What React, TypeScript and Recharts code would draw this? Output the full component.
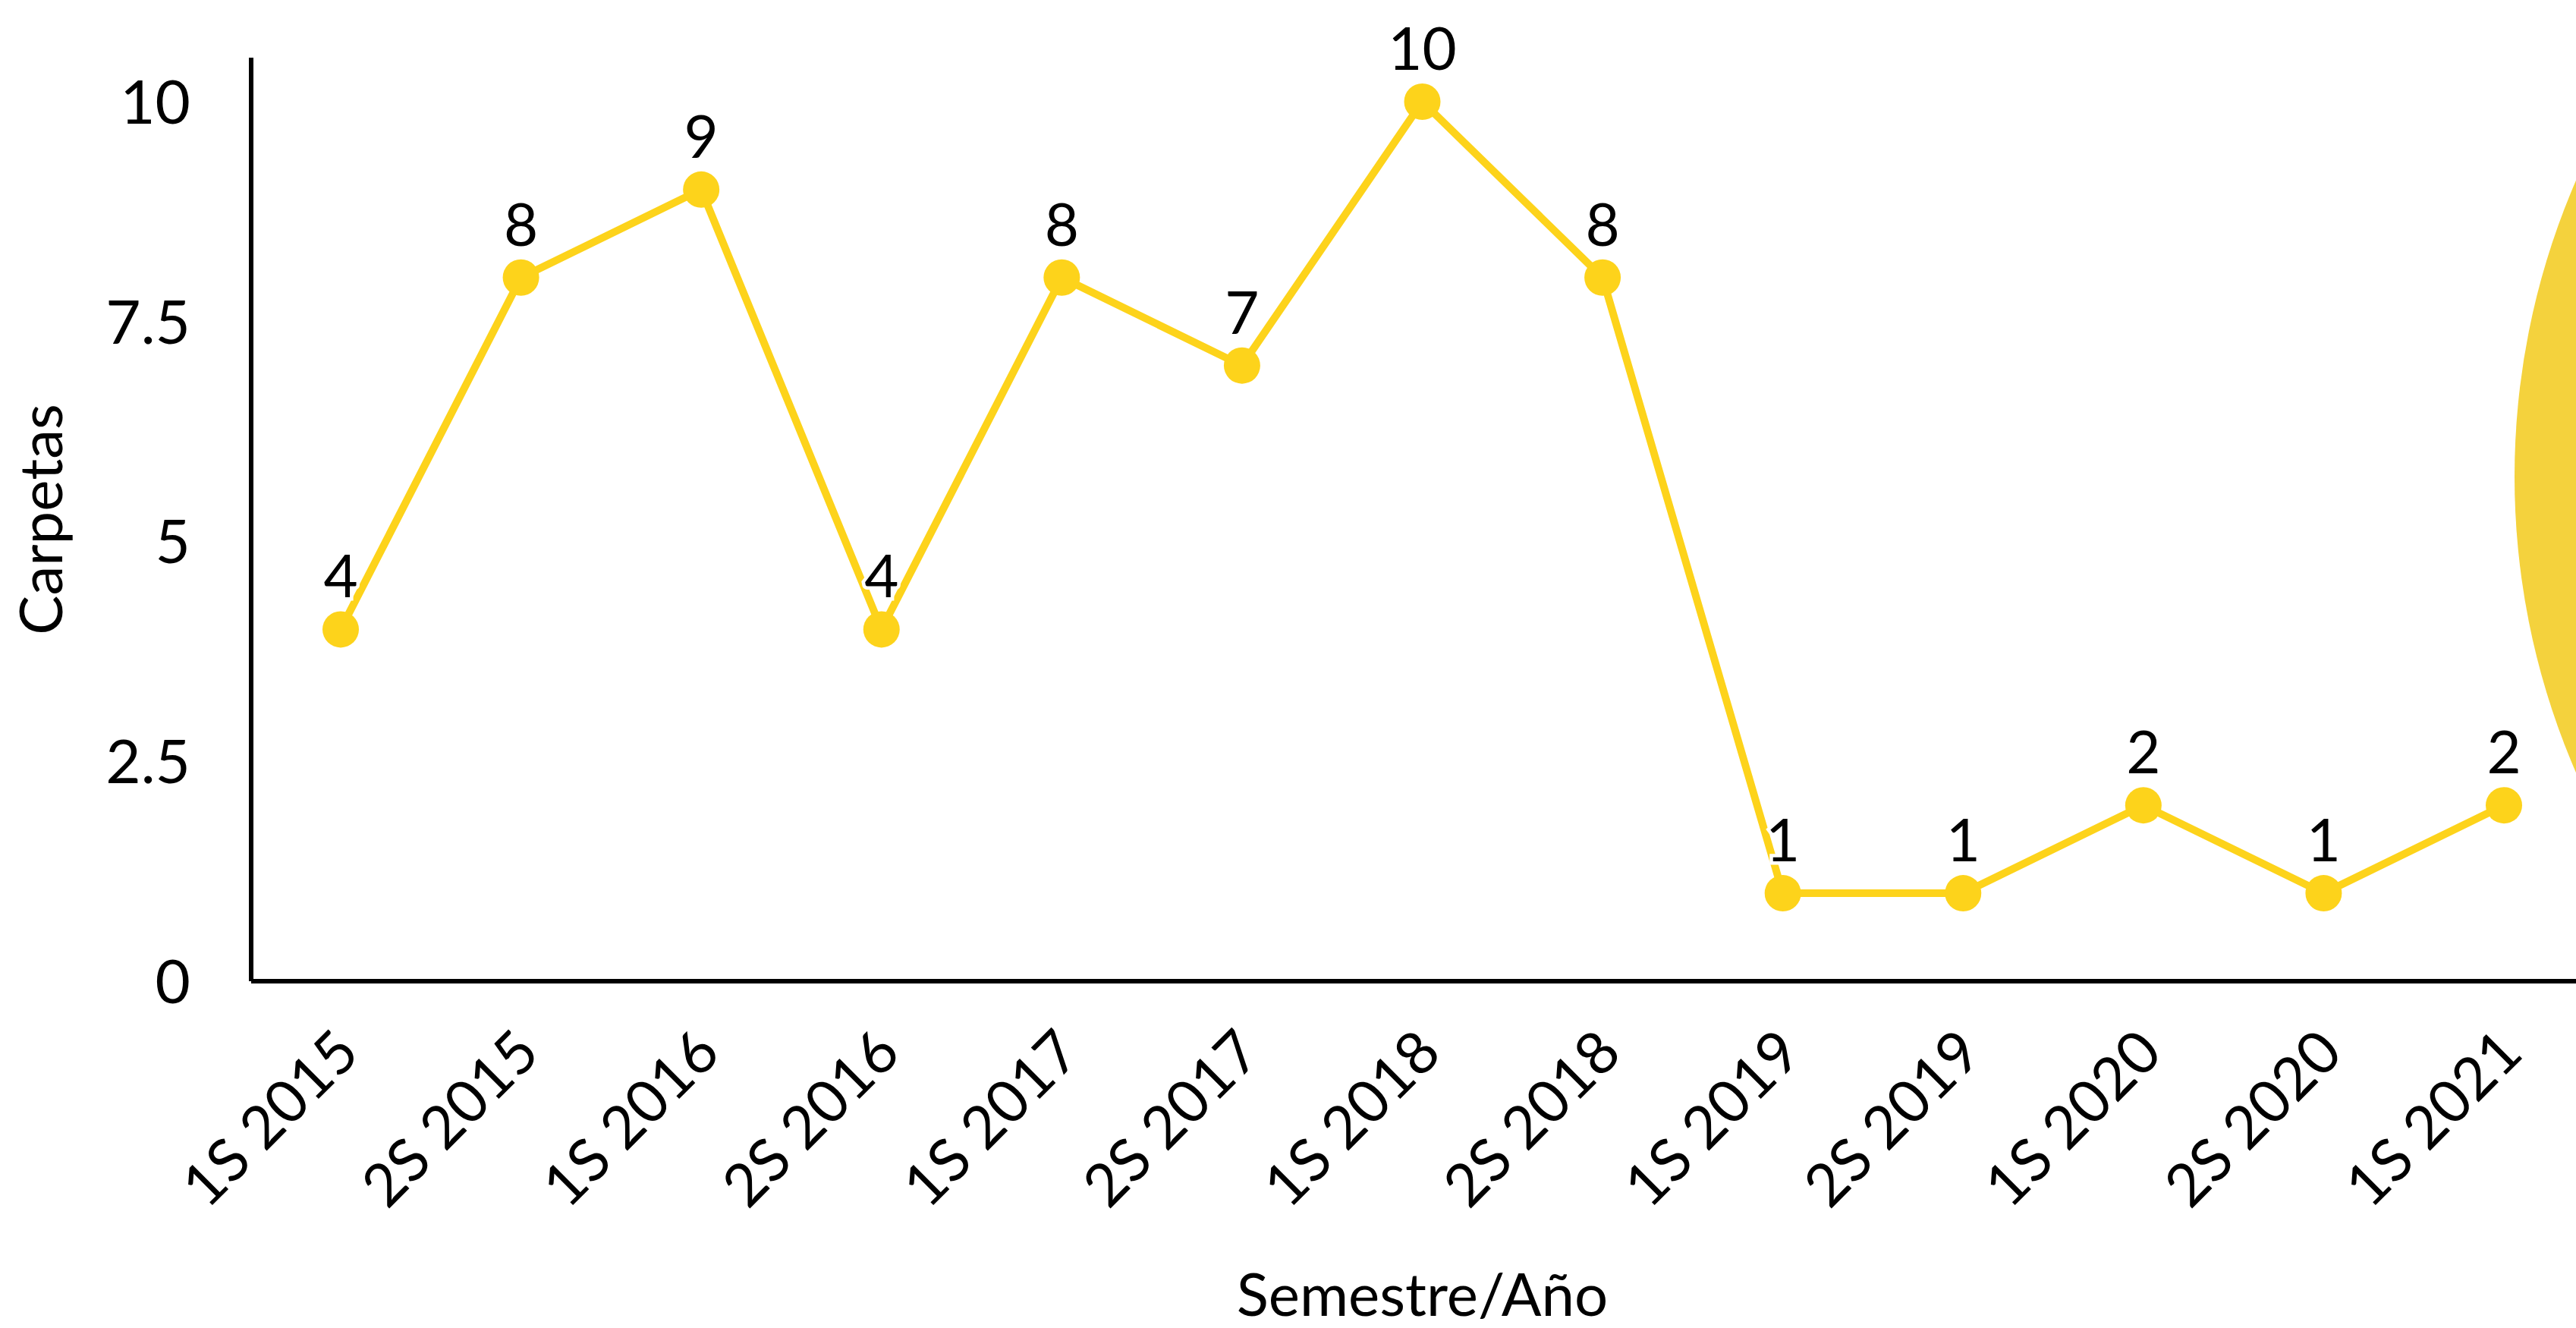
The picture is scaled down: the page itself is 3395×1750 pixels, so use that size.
import { CartesianGrid, Label, LabelList, Line, LineChart, XAxis, YAxis } from 'recharts'

const semesters = [
  '1S 2015', '2S 2015', '1S 2016', '2S 2016', '1S 2017', '2S 2017', '1S 2018',
  '2S 2018', '1S 2019', '2S 2019', '1S 2020', '2S 2020', '1S 2021',
]
const carpetas = [4, 8, 9, 4, 8, 7, 10, 8, 1, 1, 2, 1, 2]
const yTicks = [0, 2.5, 5, 7.5, 10]

const data = semesters.map((s, i) => ({ semestre: s, carpetas: carpetas[i] }))

const FONT = 'Lato, "Open Sans", sans-serif'
const YELLOW = '#FDD31B'

function XTick({ x, y, payload }: any) {
  const ax = x + 28
  const ay = y + 90
  return (
    <text
      x={ax}
      y={ay}
      transform={`rotate(-45, ${ax}, ${ay})`}
      textAnchor="end"
      fontSize={78}
      fontFamily={FONT}
      fill="#000"
    >
      {payload.value}
    </text>
  )
}

function YTick({ y, payload }: any) {
  return (
    <text x={251} y={y} dy="0.36em" textAnchor="end" fontSize={80} fontFamily={FONT} fill="#000">
      {payload.value}
    </text>
  )
}

function PointLabel({ x, y, value }: any) {
  return (
    <text
      x={x}
      y={y - 42}
      textAnchor="middle"
      fontSize={78}
      fontFamily={FONT}
      fill="#000"
      stroke="#fff"
      strokeWidth={9}
      paintOrder="stroke"
    >
      {value}
    </text>
  )
}

export default function App() {
  return (
    <div style={{ position: 'fixed', left: 0, top: 0, width: 3395, height: 1750, overflow: 'hidden', background: '#fff' }}>
      {/* decorative circle cut by the right edge */}
      <div
        style={{
          position: 'absolute',
          left: 3314,
          top: 628 - 980,
          width: 1960,
          height: 1960,
          borderRadius: '50%',
          background: '#F4D23D',
        }}
      />
      <div style={{ position: 'absolute', left: 0, top: 0 }}>
        <LineChart width={3440} height={1750} data={data} margin={{ top: 76, right: 22, bottom: 0, left: 0 }}>
          <CartesianGrid stroke="none" />
          <XAxis
            dataKey="semestre"
            interval={0}
            height={457}
            padding={{ left: 118, right: 118 }}
            tickLine={false}
            axisLine={{ stroke: '#000', strokeWidth: 6 }}
            tick={<XTick />}
          >
            <Label
              value="Semestre/Año"
              position="insideBottom"
              offset={16}
              style={{ fontSize: 78, fontFamily: FONT, fill: '#000' }}
            />
          </XAxis>
          <YAxis
            width={331}
            domain={[0, 10.5]}
            ticks={yTicks}
            tickLine={false}
            axisLine={{ stroke: '#000', strokeWidth: 6 }}
            tick={<YTick />}
          >
            <Label
              value="Carpetas"
              angle={-90}
              position="insideLeft"
              offset={54}
              style={{ fontSize: 78, fontFamily: FONT, fill: '#000', textAnchor: 'middle' }}
            />
          </YAxis>
          <Line
            type="linear"
            dataKey="carpetas"
            stroke={YELLOW}
            strokeWidth={10}
            dot={{ r: 24, fill: YELLOW, stroke: 'none' }}
            activeDot={false}
            isAnimationActive={false}
          >
            <LabelList dataKey="carpetas" content={<PointLabel />} />
          </Line>
        </LineChart>
      </div>
    </div>
  )
}
